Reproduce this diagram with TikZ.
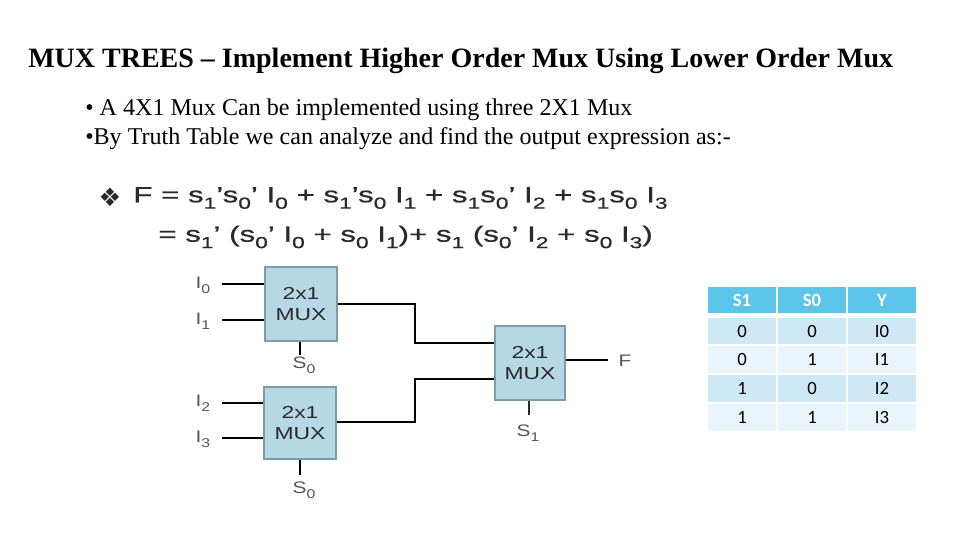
\documentclass[tikz,border=0pt]{standalone}
\usepackage{fontspec}
\setmainfont{Liberation Serif}
\newfontfamily\arialf{Liberation Sans}
\newfontfamily\arialm[FakeBold=0.6]{Liberation Sans}
\newfontfamily\calf{Carlito}
\newfontfamily\djv{DejaVu Sans}
\definecolor{muxfill}{HTML}{B5D8E4}
\definecolor{muxedge}{HTML}{7E9CA6}
\definecolor{thead}{HTML}{5BC5EA}
\definecolor{rowa}{HTML}{CFE8F6}
\definecolor{rowb}{HTML}{E9F4FB}
\definecolor{ink}{HTML}{2A2A2A}
\definecolor{labgray}{HTML}{555555}
\newcommand{\sbx}[1]{\raisebox{-0.55ex}{\fontsize{12}{12}\selectfont #1}}
\newcommand{\sby}[1]{\raisebox{-0.6ex}{\fontsize{9.5}{10}\selectfont #1}}
\tikzset{
  px/.style={x=0.75pt,y=-0.75pt},
  mux/.style={draw=muxedge,line width=1.9pt,fill=muxfill,inner sep=0pt},
  muxtext/.style={inner sep=0pt,align=center,text=ink,xscale=1.32,transform shape,
     font=\arialf\fontsize{13}{15.5}\selectfont},
  wire/.style={draw=black,line width=0.9pt},
  lab/.style={inner sep=0pt,text=labgray,xscale=1.25,transform shape,font=\arialf\fontsize{12.5}{13}\selectfont},
  formula/.style={inner sep=0pt,anchor=west,text=ink,xscale=1.42,transform shape,font=\arialm\fontsize{16.5}{18}\selectfont},
  body/.style={inner sep=0pt,anchor=west,text=black,font=\fontsize{18.05}{20}\selectfont},
  cell/.style={inner sep=0pt,text=black,font=\calf\fontsize{14}{15}\selectfont},
  headcell/.style={cell,text=white,font=\calf\bfseries\fontsize{14}{15}\selectfont},
}
\newcommand{\cellrow}[8]{% y1,y2,fill,style,t1,t2,t3,prefix
  \fill[#3] (708,#1) rectangle (776,#2);
  \fill[#3] (778,#1) rectangle (846,#2);
  \fill[#3] (848,#1) rectangle (916,#2);
  \node[#4] (#8a) at (742,{(#1+#2)/2}) {#5};
  \node[#4] (#8b) at (812,{(#1+#2)/2}) {#6};
  \node[#4] (#8c) at (882,{(#1+#2)/2}) {#7};}
\begin{document}
\begin{tikzpicture}[px]
\useasboundingbox (0,0) rectangle (960,540);
\fill[white] (0,0) rectangle (960,540);
% title and text
\node[inner sep=0pt,anchor=west,font=\bfseries\fontsize{21}{24}\selectfont] (title) at (28,61)
  {MUX TREES -- Implement Higher Order Mux Using Lower Order Mux};
\node[body] (b1) at (85,110) {• A 4X1 Mux Can be implemented using three 2X1 Mux};
\node[body] (b2) at (85,139) {•By Truth Table we can analyze and find the output expression as:-};
% formula
\node[inner sep=0pt,anchor=center,text=ink,font=\djv\fontsize{19}{20}\selectfont] (star) at (110,197) {❖};
\node[formula] (f1) at (133,198) {F = s\sbx{1}’s\sbx{0}’ I\sbx{0} + s\sbx{1}’s\sbx{0} I\sbx{1} + s\sbx{1}s\sbx{0}’ I\sbx{2} + s\sbx{1}s\sbx{0} I\sbx{3}};
\node[formula] (f2) at (158,237) {= s\sbx{1}’ (s\sbx{0}’ I\sbx{0} + s\sbx{0} I\sbx{1})+ s\sbx{1} (s\sbx{0}’ I\sbx{2} + s\sbx{0} I\sbx{3})};
% muxes
\node[mux,minimum width=54pt,minimum height=55.5pt] (m1) at (301,304) {};
\node[mux,minimum width=54pt,minimum height=54pt] (m2) at (300,423) {};
\node[mux,minimum width=52.5pt,minimum height=55.5pt] (m3) at (530,363) {};
\node[muxtext] (t1) at (m1) {2x1\\MUX};
\node[muxtext] (t2) at (m2) {2x1\\MUX};
\node[muxtext] (t3) at (m3) {2x1\\MUX};
% labels
\node[lab] (i0) at (203,285) {I\sby{0}};
\node[lab] (i1) at (203,321) {I\sby{1}};
\node[lab] (i2) at (203,403) {I\sby{2}};
\node[lab] (i3) at (203,439) {I\sby{3}};
\node[lab] (s0a) at (304,365) {S\sby{0}};
\node[lab] (s0b) at (304,490) {S\sby{0}};
\node[lab] (s1) at (528,433) {S\sby{1}};
\node[lab] (fo) at (625,361) {F};
% wire ends
\coordinate (ci0) at (222,284);
\coordinate (ci1) at (222,320);
\coordinate (ci2) at (222,403);
\coordinate (ci3) at (222,438);
\coordinate (cs0a) at (300,355);
\coordinate (cs0b) at (300,475);
\coordinate (cs1) at (529,415);
\coordinate (cf) at (608,360);
\coordinate (top1) at (415,304);
\coordinate (top2) at (415,343);
\coordinate (bot1) at (415,422);
\coordinate (bot2) at (415,379);
% wires
\draw[wire] (ci0) -- (m1.west|-ci0);
\draw[wire] (ci1) -- (m1.west|-ci1);
\draw[wire] (ci2) -- (m2.west|-ci2);
\draw[wire] (ci3) -- (m2.west|-ci3);
\draw[wire] (m1.south-|cs0a) -- (cs0a);
\draw[wire] (m2.south-|cs0b) -- (cs0b);
\draw[wire,line width=1.5pt,draw=ink] (m3.south-|cs1) -- (cs1);
\draw[wire] (m3.east|-cf) -- (cf);
\draw[wire] (m1.east|-top1) -- (top1) -- (top2) -- (m3.west|-top2);
\draw[wire] (m2.east|-bot1) -- (bot1) -- (bot2) -- (m3.west|-bot2);
% table
\cellrow{287}{313}{thead}{headcell}{S1}{S0}{Y}{h}
\cellrow{318}{344}{rowa}{cell}{0}{0}{I0}{p}
\cellrow{346}{373}{rowb}{cell}{0}{1}{I1}{q}
\cellrow{375}{402}{rowa}{cell}{1}{0}{I2}{r}
\cellrow{404}{431}{rowb}{cell}{1}{1}{I3}{u}
\end{tikzpicture}
\end{document}
